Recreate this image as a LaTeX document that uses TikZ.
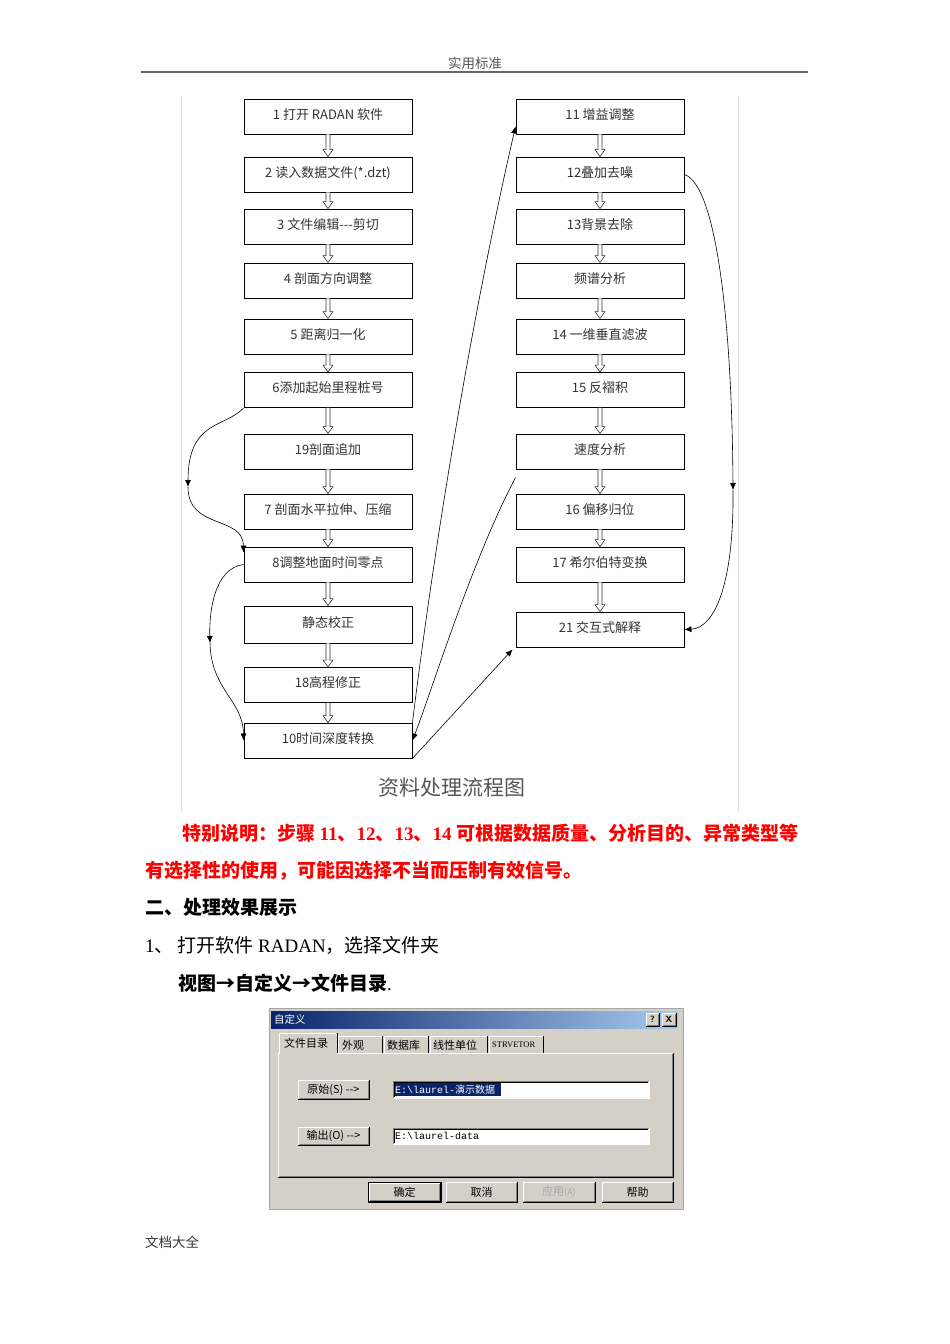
\documentclass[tikz,border=0pt]{standalone}
\usepackage{fontspec}
\setmainfont{Liberation Serif}
\setmonofont{Liberation Mono}
\newfontfamily\cjk{Noto Sans CJK SC}
\usetikzlibrary{arrows.meta,calc}
\definecolor{textgray}{HTML}{333333}
\definecolor{capgray}{HTML}{555555}
\definecolor{notered}{HTML}{FF0000}
\definecolor{winface}{HTML}{D4D0C8}
\definecolor{winnavy}{HTML}{0A246A}
\definecolor{winsky}{HTML}{A6CAF0}
\definecolor{winshadow}{HTML}{808080}

\tikzset{
  stepbox/.style={draw=black, line width=0.9pt, fill=white, minimum width=168pt, minimum height=35pt,
    inner sep=0pt, text height=10.5pt, text depth=5pt, font=\cjk\fontsize{13}{15}\selectfont, text=textgray},
  flowline/.style={black, line width=0.6pt, -{Latex[length=7pt,width=6pt]}},
  hollow/.style={draw=black!80, line width=0.6pt, fill=white},
  bodytext/.style={anchor=base west, inner sep=0pt, font=\fontsize{19}{22}\selectfont},
  winlabel/.style={inner sep=0pt, font=\cjk\fontsize{11}{13}\selectfont},
  fieldtext/.style={anchor=west, inner sep=0pt, font=\ttfamily\fontsize{10}{12}\selectfont}
}

% hollow block arrow from one step to the next
\newcommand{\hollowarrow}[2]{%
  \draw[hollow] ($(#1.south)+(-2,0)$) -- ($(#2.north)+(-2,-7)$) -- ($(#2.north)+(-5,-7)$)
    -- (#2.north) -- ($(#2.north)+(5,-7)$) -- ($(#2.north)+(2,-7)$) -- ($(#1.south)+(2,0)$);}
% raised and sunken windows frames
\newcommand{\raisedrect}[4]{%
  \fill[winface] (#1,#2) rectangle (#3,#4);
  \draw[white, line width=1pt] (#1,#4) -- (#1,#2) -- (#3,#2);
  \draw[black, line width=1pt] (#1,#4) -- (#3,#4) -- (#3,#2);
  \draw[winshadow, line width=1pt] (#1+1,#4-1) -- (#3-1,#4-1) -- (#3-1,#2+1);}
\newcommand{\sunkenrect}[4]{%
  \fill[white] (#1,#2) rectangle (#3,#4);
  \draw[winshadow, line width=1pt] (#1,#4) -- (#1,#2) -- (#3,#2);
  \draw[black, line width=1pt] (#1+1,#4-1) -- (#1+1,#2+1) -- (#3-1,#2+1);
  \draw[white, line width=1pt] (#1,#4) -- (#3,#4) -- (#3,#2);}

\begin{document}
\begin{tikzpicture}[x=1pt, y=-1pt]
        \useasboundingbox (0,0) rectangle (950,1344);
        \fill[white] (0,0) rectangle (950,1344);
        % Page header
        \node[font=\cjk\fontsize{13.5}{15}\selectfont, text=capgray, anchor=base] (header) at (475,68.5) {实用标准};
        \draw[gray!80!black, line width=1.5pt] (141,72) -- (808,72);
        % Frame of the flow chart picture
        \draw[black!15, line width=0.6pt] (181,97) -- (181,812);
        \draw[black!15, line width=0.6pt] (738,97) -- (738,812);
        % Left column of steps
        \node[stepbox] (s1)  at (328,116.5) {1 打开 RADAN 软件};
        \node[stepbox] (s2)  at (328,174.5) {2 读入数据文件(*.dzt)};
        \node[stepbox] (s3)  at (328,226.5) {3 文件编辑-{}-{}-剪切};
        \node[stepbox] (s4)  at (328,280.5) {4 剖面方向调整};
        \node[stepbox] (s5)  at (328,336.5) {5 距离归一化};
        \node[stepbox] (s6)  at (328,390) {6添加起始里程桩号};
        \node[stepbox] (s19) at (328,451.5) {19剖面追加};
        \node[stepbox] (s7)  at (328,511.5) {7 剖面水平拉伸、压缩};
        \node[stepbox] (s8)  at (328,564.5) {8调整地面时间零点};
        \node[stepbox, minimum height=37pt] (sjt) at (328,624.5) {静态校正};
        \node[stepbox] (s18) at (328,685) {18高程修正};
        \node[stepbox] (s10) at (328,740.5) {10时间深度转换};
        % Right column of steps
        \node[stepbox] (s11) at (600,116.5) {11 增益调整};
        \node[stepbox] (s12) at (600,174.5) {12叠加去噪};
        \node[stepbox] (s13) at (600,226.5) {13背景去除};
        \node[stepbox] (spp) at (600,280.5) {频谱分析};
        \node[stepbox] (s14) at (600,336.5) {14 一维垂直滤波};
        \node[stepbox] (s15) at (600,390) {15 反褶积};
        \node[stepbox] (ssd) at (600,451.5) {速度分析};
        \node[stepbox] (s16) at (600,511.5) {16 偏移归位};
        \node[stepbox] (s17) at (600,564.5) {17 希尔伯特变换};
        \node[stepbox] (s21) at (600,629.5) {21 交互式解释};
        % Hollow arrows down each column
        \foreach \a/\b in {s1/s2,s2/s3,s3/s4,s4/s5,s5/s6,s6/s19,s19/s7,s7/s8,s8/sjt,sjt/s18,s18/s10,
                           s11/s12,s12/s13,s13/spp,spp/s14,s14/s15,s15/ssd,ssd/s16,s16/s17,s17/s21}
          \hollowarrow{\a}{\b};
        % Curved bypass lines on the left
        \coordinate (k1) at (188,487);
        \coordinate (k2) at (210,643);
        \draw[flowline] (s6.south west) .. controls (225,428) and (188,420) .. (k1);
        \draw[flowline] (k1) .. controls (188,530) and (243,515) .. ($(s8.north west)+(0,6)$);
        \draw[flowline] (s8.west) .. controls (215,568) and (209,610) .. (k2);
        \draw[flowline] (k2) .. controls (211,690) and (243,700) .. (s10.west);
        % Lines between the two columns
        \draw[flowline] (s10.north east) .. controls (440,500) and (480,280) .. ($(s11.south west)+(0,-8)$);
        \draw[flowline] ($(ssd.south west)+(0,8)$) .. controls (472,560) and (432,690) .. (s10.east);
        \draw[flowline] (s10.south east) -- ($(s21.south west)+(-3,2)$);
        % Curved bypass line on the right
        \coordinate (k3) at (733,490);
        \draw[flowline] (s12.east) .. controls (716,185) and (732,320) .. (k3);
        \draw[flowline] (k3) .. controls (734,580) and (716,628) .. (s21.east);
        % Caption
        \node[font=\cjk\fontsize{21}{24}\selectfont, text=capgray, anchor=base] (caption) at (452,795) {资料处理流程图};
        % Note in red
        \node[bodytext, text=notered] (note1) at (182,840)
          {\bfseries{\cjk 特别说明：步骤 }11{\cjk 、}12{\cjk 、}13{\cjk 、}14 {\cjk 可根据数据质量、分析目的、异常类型等}};
        \node[bodytext, text=notered] (note2) at (145,877)
          {{\cjk\bfseries 有选择性的使用，可能因选择不当而压制有效信号。}};
        % Section text
        \node[bodytext] (sect) at (145,914) {{\cjk\bfseries 二、处理效果展示}};
        \node[bodytext] (item1) at (145,952) {1{\cjk 、 打开软件 }RADAN{\cjk ，选择文件夹}};
        \node[bodytext] (menu) at (178,990) {{\cjk\bfseries 视图→自定义→文件目录}.};
        % Dialog window
        \fill[winface] (269,1008) rectangle (683,1209);
        \draw[black!35, line width=0.8pt] (269,1008) rectangle (683,1209);
        \shade[left color=winnavy, right color=winsky] (271,1011) rectangle (678,1028);
        \node[winlabel, anchor=west, text=white, font=\cjk\fontsize{10.5}{12}\selectfont] (dlgtitle) at (274,1019.5) {自定义};
        \raisedrect{646}{1013}{659}{1026}
        \raisedrect{662}{1013}{676}{1026}
        \node[font=\sffamily\bfseries\fontsize{9}{10}\selectfont, inner sep=0pt] (qbtn) at (652.5,1019.5) {?};
        \node[font=\sffamily\bfseries\fontsize{9}{10}\selectfont, inner sep=0pt] (xbtn) at (669,1019.5) {X};
        % Tab panel
        \draw[white, line width=1pt] (278,1177) -- (278,1053) -- (673,1053);
        \draw[black, line width=1pt] (278,1177) -- (673,1177) -- (673,1053);
        \draw[winshadow, line width=1pt] (279,1176) -- (672,1176) -- (672,1054);
        \foreach \ta/\tb/\tt in {338/382/1036, 384/428/1036, 430/487/1036, 489/543/1036} {
          \draw[white, line width=1pt] (\ta,1053) -- (\ta,\tt) -- (\tb,\tt);
          \draw[black, line width=1pt] (\tb,\tt) -- (\tb,1053);
        }
        \fill[winface] (279.5,1033) rectangle (336.5,1054);
        \draw[white, line width=1pt] (279,1054) -- (279,1033) -- (336,1033);
        \draw[black, line width=1pt] (337,1033) -- (337,1053);
        \node[winlabel, anchor=west] (tabfile) at (284,1043) {文件目录};
        \node[winlabel, anchor=west] (tablook) at (342,1045) {外观};
        \node[winlabel, anchor=west] (tabdb)   at (387,1045) {数据库};
        \node[winlabel, anchor=west] (tabunit) at (433,1045) {线性单位};
        \node[winlabel, anchor=west, font=\fontsize{8.5}{10}\selectfont] (tabsurv) at (492,1045) {STRVETOR};
        % Folder buttons and fields
        \raisedrect{298}{1080}{369}{1099}
        \raisedrect{298}{1127}{369}{1145}
        \node[winlabel] (btnraw) at (333.5,1089.5) {原始(S) -{}->};
        \node[winlabel] (btnout) at (333.5,1136) {输出(O) -{}->};
        \sunkenrect{393}{1081}{649}{1098}
        \sunkenrect{393}{1128}{649}{1144}
        \fill[winnavy] (395,1083) rectangle (501,1096);
        \node[fieldtext, text=white] (fieldraw) at (395,1089.5) {E:\textbackslash laurel-{\cjk\fontsize{10}{12}\selectfont 演示数据}};
        \node[fieldtext] (fieldout) at (395,1136) {E:\textbackslash laurel-data};
        % Bottom buttons
        \raisedrect{369}{1183}{440}{1201}
        \draw[black, line width=1pt] (368,1182) rectangle (441,1202);
        \raisedrect{446}{1182}{517}{1202}
        \raisedrect{523}{1182}{595}{1202}
        \raisedrect{602}{1182}{673}{1202}
        \node[winlabel] (btnok)    at (404.5,1192) {确定};
        \node[winlabel] (btncancel) at (481.5,1192) {取消};
        \node[winlabel, text=gray!70] (btnapply) at (559,1192) {应用{\fontsize{9}{10}\selectfont (A)}};
        \node[winlabel] (btnhelp)  at (637.5,1192) {帮助};
        % Page footer
        \node[font=\cjk\fontsize{13.5}{15}\selectfont, text=textgray, anchor=base west, inner sep=0pt] (footer) at (145,1247) {文档大全};
      \end{tikzpicture}
\end{document}
